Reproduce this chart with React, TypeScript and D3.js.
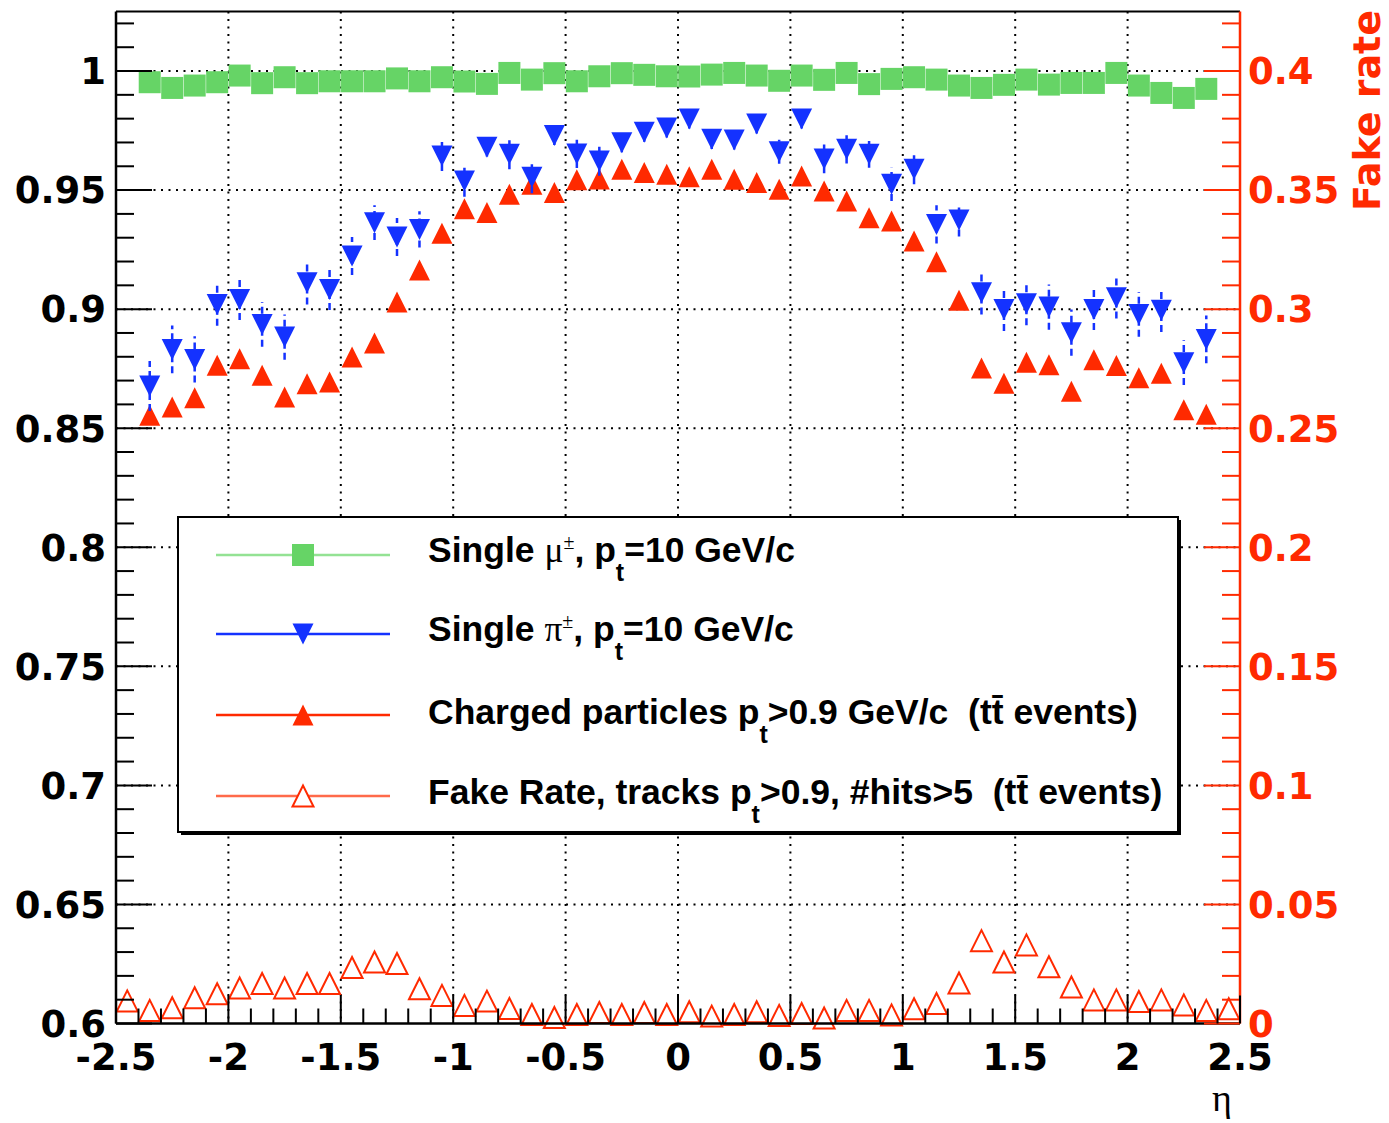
import React from 'react';
import * as d3 from 'd3';

// ---- data ----
const etaEff = [-2.35,-2.25,-2.15,-2.05,-1.95,-1.85,-1.75,-1.65,-1.55,-1.45,-1.35,-1.25,-1.15,-1.05,-0.95,-0.85,-0.75,-0.65,-0.55,-0.45,-0.35,-0.25,-0.15,-0.05,0.05,0.15,0.25,0.35,0.45,0.55,0.65,0.75,0.85,0.95,1.05,1.15,1.25,1.35,1.45,1.55,1.65,1.75,1.85,1.95,2.05,2.15,2.25,2.35];
const etaFake = [-2.45,-2.35,-2.25,-2.15,-2.05,-1.95,-1.85,-1.75,-1.65,-1.55,-1.45,-1.35,-1.25,-1.15,-1.05,-0.95,-0.85,-0.75,-0.65,-0.55,-0.45,-0.35,-0.25,-0.15,-0.05,0.05,0.15,0.25,0.35,0.45,0.55,0.65,0.75,0.85,0.95,1.05,1.15,1.25,1.35,1.45,1.55,1.65,1.75,1.85,1.95,2.05,2.15,2.25,2.35,2.45];

const muonEff = [0.9953,0.9929,0.9939,0.9953,0.9981,0.9949,0.9974,0.9949,0.9957,0.9957,0.9957,0.9969,0.9957,0.9974,0.9956,0.9946,0.9992,0.9964,0.9991,0.9957,0.9978,0.9991,0.9984,0.9978,0.9977,0.9985,0.9992,0.9981,0.9959,0.9981,0.9963,0.9992,0.9945,0.9967,0.9974,0.9964,0.9939,0.9929,0.9942,0.9964,0.9943,0.9950,0.9950,0.9992,0.9939,0.9908,0.9887,0.9925];

const pionEff = [0.8677,0.8831,0.8789,0.9020,0.9041,0.8936,0.8883,0.9111,0.9083,0.9223,0.9363,0.9303,0.9335,0.9643,0.9538,0.9680,0.9650,0.9554,0.9729,0.9652,0.9622,0.9699,0.9743,0.9761,0.9799,0.9713,0.9710,0.9778,0.9661,0.9799,0.9631,0.9671,0.9650,0.9524,0.9587,0.9356,0.9374,0.9069,0.8999,0.9023,0.9009,0.8901,0.8999,0.9048,0.8978,0.8995,0.8775,0.8873];
const pionErr = [0.0105,0.0100,0.0097,0.0090,0.0087,0.0094,0.0095,0.0091,0.0087,0.0080,0.0073,0.0080,0.0076,0.0063,0.0066,0.0039,0.0062,0.0067,0.0040,0.0059,0.0062,0.0040,0.0040,0.0040,0.0040,0.0040,0.0040,0.0040,0.0050,0.0040,0.0060,0.0059,0.0056,0.0070,0.0063,0.0080,0.0069,0.0091,0.0091,0.0091,0.0095,0.0097,0.0087,0.0087,0.0094,0.0091,0.0094,0.0100];

const chargedEff = [0.8554,0.8589,0.8628,0.8764,0.8792,0.8722,0.8631,0.8687,0.8694,0.8799,0.8858,0.9030,0.9164,0.9319,0.9422,0.9406,0.9483,0.9524,0.9490,0.9543,0.9547,0.9588,0.9574,0.9567,0.9556,0.9587,0.9546,0.9532,0.9504,0.9559,0.9496,0.9454,0.9384,0.9370,0.9286,0.9199,0.9037,0.8753,0.8689,0.8777,0.8767,0.8655,0.8787,0.8763,0.8712,0.8731,0.8577,0.8559];

const fakeRate = [0.0095,0.0055,0.0066,0.0108,0.0125,0.0149,0.0168,0.0149,0.0168,0.0168,0.0235,0.0258,0.0252,0.0146,0.0118,0.0076,0.0094,0.0063,0.0038,0.0025,0.0038,0.0046,0.0038,0.0046,0.0038,0.0049,0.0031,0.0038,0.0049,0.0034,0.0042,0.0023,0.0055,0.0055,0.0036,0.0062,0.0084,0.0170,0.0348,0.0258,0.0330,0.0238,0.0153,0.0099,0.0099,0.0092,0.0099,0.0078,0.0055,0.0062];

const xTickValues = [-2.5,-2,-1.5,-1,-0.5,0,0.5,1,1.5,2,2.5];
const xTickLabels = ['-2.5','-2','-1.5','-1','-0.5','0','0.5','1','1.5','2','2.5'];
const yLeftTickValues = [0.6,0.65,0.7,0.75,0.8,0.85,0.9,0.95,1];
const yLeftTickLabels = ['0.6','0.65','0.7','0.75','0.8','0.85','0.9','0.95','1'];
const yRightTickValues = [0,0.05,0.1,0.15,0.2,0.25,0.3,0.35,0.4];
const yRightTickLabels = ['0','0.05','0.1','0.15','0.2','0.25','0.3','0.35','0.4'];

const GREEN = '#66d466';
const GREEN_LIGHT = '#94e294';
const BLUE = '#1432ff';
const RED = '#ff2a00';
const RED_LIGHT = '#ff6a4a';

const W = 1389, H = 1123;
const L = 116, R = 1240, T = 11.5, B = 1023.5;

const x = d3.scaleLinear().domain([-2.5, 2.5]).range([L, R]);
const yL = d3.scaleLinear().domain([0.6, 1.025]).range([B, T]);
const yR = d3.scaleLinear().domain([0, 0.425]).range([B, T]);

const triUp = (cx: number, cy: number, s: number) =>
  `M${cx - s / 2},${cy + s / 2}L${cx + s / 2},${cy + s / 2}L${cx},${cy - s / 2}Z`;
const triDown = (cx: number, cy: number, s: number) =>
  `M${cx - s / 2},${cy - s / 2}L${cx + s / 2},${cy - s / 2}L${cx},${cy + s / 2}Z`;

const AXFONT = "'DejaVu Sans', sans-serif";
const LGFONT = "'Liberation Sans', Arial, sans-serif";
const SERIF = "'Liberation Serif', 'DejaVu Serif', serif";
const SP2 = '\u00a0\u00a0';

export default function App() {
  const minorY = d3.range(0, 43).map(i => 0.6 + i * 0.01);
  const minorYR = d3.range(0, 43).map(i => i * 0.01);
  const minorX = d3.range(0, 51).map(i => -2.5 + i * 0.1);
  const grid = { stroke: '#000', strokeWidth: 2, strokeDasharray: '2 5.5' };

  const legendRows = [
    { y: 555, color: GREEN_LIGHT, kind: 'sq' },
    { y: 634, color: BLUE, kind: 'down' },
    { y: 715, color: RED, kind: 'up' },
    { y: 796, color: RED_LIGHT, kind: 'open' },
  ];

  return (
    <svg width={W} height={H} style={{ position: 'absolute', left: 0, top: 0, background: '#fff' }}>
      <rect x={0} y={0} width={W} height={H} fill="#fff" />
      {/* grid */}
      {xTickValues.slice(1, -1).map(v => (
        <line key={'gx' + v} x1={x(v)} x2={x(v)} y1={T} y2={B} {...grid} />
      ))}
      {yLeftTickValues.slice(1).map(v => (
        <line key={'gy' + v} x1={L} x2={R} y1={yL(v)} y2={yL(v)} {...grid} />
      ))}

      {/* fake rate (open triangles) */}
      {etaFake.map((e, i) => (
        <path key={'f' + i} d={triUp(x(e), yR(fakeRate[i]), 21)} fill="none" stroke={RED} strokeWidth={2} />
      ))}

      {/* charged particles */}
      {etaEff.map((e, i) => (
        <path key={'c' + i} d={triUp(x(e), yL(chargedEff[i]), 21)} fill={RED} />
      ))}

      {/* pions */}
      {etaEff.map((e, i) => (
        <line key={'pe' + i} x1={x(e)} x2={x(e)} y1={yL(pionEff[i] - pionErr[i])} y2={yL(pionEff[i] + pionErr[i])}
          stroke={BLUE} strokeWidth={2.5} strokeDasharray="7 4" />
      ))}
      {etaEff.map((e, i) => (
        <path key={'p' + i} d={triDown(x(e), yL(pionEff[i]), 21)} fill={BLUE} />
      ))}

      {/* muons */}
      {etaEff.map((e, i) => (
        <rect key={'m' + i} x={x(e) - 11} y={yL(muonEff[i]) - 11} width={22} height={22} fill={GREEN} />
      ))}

      {/* axes frame */}
      <line x1={L} x2={R} y1={T} y2={T} stroke="#000" strokeWidth={2} />
      <line x1={L} x2={L} y1={T} y2={B} stroke="#000" strokeWidth={2.5} />
      <line x1={L} x2={R} y1={B} y2={B} stroke="#000" strokeWidth={2.5} />
      <line x1={R} x2={R} y1={T} y2={B} stroke={RED} strokeWidth={2.5} />

      {/* left ticks */}
      {minorY.map((v, i) => (
        <line key={'ly' + i} x1={L} x2={L + (i % 5 === 0 ? 36 : 18)} y1={yL(v)} y2={yL(v)} stroke="#000" strokeWidth={2} />
      ))}
      {/* right ticks */}
      {minorYR.map((v, i) => (
        <line key={'ry' + i} x1={R} x2={R - (i % 5 === 0 ? 36 : 18)} y1={yR(v)} y2={yR(v)} stroke={RED} strokeWidth={2} />
      ))}
      {/* bottom ticks */}
      {minorX.map((v, i) => (
        <line key={'bx' + i} x1={x(v)} x2={x(v)} y1={B} y2={B - (i % 5 === 0 ? 28 : 15)} stroke="#000" strokeWidth={2} />
      ))}

      {/* left labels */}
      {yLeftTickValues.map((v, i) => (
        <text key={'lt' + i} x={106} y={yL(v)} dy="0.36em" textAnchor="end" fontFamily={AXFONT} fontWeight="bold" fontSize={37} fill="#000">
          {yLeftTickLabels[i]}
        </text>
      ))}
      {/* right labels */}
      {yRightTickValues.map((v, i) => (
        <text key={'rt' + i} x={1248} y={yR(v)} dy="0.36em" textAnchor="start" fontFamily={AXFONT} fontWeight="bold" fontSize={37} fill={RED}>
          {yRightTickLabels[i]}
        </text>
      ))}
      {/* bottom labels */}
      {xTickValues.map((v, i) => (
        <text key={'bt' + i} x={x(v)} y={1070} textAnchor="middle" fontFamily={AXFONT} fontWeight="bold" fontSize={37} fill="#000">
          {xTickLabels[i]}
        </text>
      ))}

      {/* axis titles */}
      <text transform={`translate(1380,10) rotate(-90)`} textAnchor="end" fontFamily={AXFONT} fontWeight="bold" fontSize={38} fill={RED}>
        Fake rate
      </text>
      <text x={1222} y={1111} textAnchor="middle" fontFamily={SERIF} fontSize={38} fill="#000">η</text>

      {/* legend */}
      <rect x={181} y={520} width={1000} height={315} fill="#000" />
      <rect x={178} y={517} width={1000} height={315} fill="#fff" stroke="#000" strokeWidth={2} />
      {legendRows.map((r, i) => (
        <g key={'lg' + i}>
          <line x1={216} x2={390} y1={r.y} y2={r.y} stroke={r.color} strokeWidth={2.5} />
          {r.kind === 'sq' && <rect x={292} y={r.y - 11} width={22} height={22} fill={GREEN} />}
          {r.kind === 'down' && <path d={triDown(303, r.y, 21)} fill={BLUE} />}
          {r.kind === 'up' && <path d={triUp(303, r.y, 21)} fill={RED} />}
          {r.kind === 'open' && <path d={triUp(303, r.y, 21)} fill="#fff" stroke={RED} strokeWidth={2} />}
        </g>
      ))}
      <g fontFamily={LGFONT} fontWeight="bold" fontSize={35.5} fill="#000">
        <text x={428} y={562}>
          {'Single\u00a0'}<tspan fontFamily={SERIF} fontWeight="normal">μ</tspan>
          <tspan fontFamily={SERIF} fontWeight="normal" fontSize={20} dy={-13}>±</tspan>
          <tspan dy={13}>{', p'}</tspan>
          <tspan fontSize={25} dy={19}>t</tspan>
          <tspan dy={-19}>{'=10 GeV/c'}</tspan>
        </text>
        <text x={428} y={641}>
          {'Single\u00a0'}<tspan fontFamily={SERIF} fontWeight="normal">π</tspan>
          <tspan fontFamily={SERIF} fontWeight="normal" fontSize={20} dy={-13}>±</tspan>
          <tspan dy={13}>{', p'}</tspan>
          <tspan fontSize={25} dy={19}>t</tspan>
          <tspan dy={-19}>{'=10 GeV/c'}</tspan>
        </text>
        <text x={428} y={724}>
          {'Charged particles p'}
          <tspan fontSize={25} dy={19}>t</tspan>
          <tspan dy={-19}>{'>0.9 GeV/c' + SP2 + '(tt\u0304 events)'}</tspan>
        </text>
        <text x={428} y={804}>
          {'Fake Rate, tracks p'}
          <tspan fontSize={25} dy={19}>t</tspan>
          <tspan dy={-19}>{'>0.9, #hits>5' + SP2 + '(tt\u0304 events)'}</tspan>
        </text>
      </g>
    </svg>
  );
}
